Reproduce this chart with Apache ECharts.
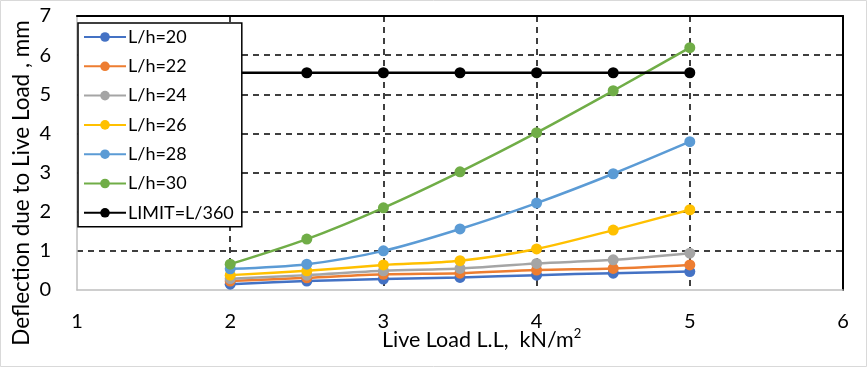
<!DOCTYPE html>
<html><head><meta charset="utf-8">
<script src="https://cdn.jsdelivr.net/npm/echarts@6/dist/echarts.min.js"></script>
<style>html,body{margin:0;padding:0;background:#fff}#c{width:867px;height:367px}</style>
</head><body><div id="c"></div>
<script>
const xLoads = [2, 2.5, 3, 3.5, 4, 4.5, 5];
const seriesNames = ['L/h=20','L/h=22','L/h=24','L/h=26','L/h=28','L/h=30','LIMIT=L/360'];
const lh20 = [0.15, 0.23, 0.28, 0.32, 0.38, 0.43, 0.47];
const lh22 = [0.23, 0.31, 0.40, 0.43, 0.51, 0.55, 0.64];
const lh24 = [0.29, 0.38, 0.49, 0.55, 0.68, 0.77, 0.94];
const lh26 = [0.38, 0.49, 0.64, 0.75, 1.05, 1.53, 2.05];
const lh28 = [0.54, 0.66, 1.00, 1.56, 2.22, 2.97, 3.79];
const lh30 = [0.66, 1.30, 2.10, 3.02, 4.02, 5.09, 6.19];
const limit = [5.55, 5.55, 5.55, 5.55, 5.55, 5.55, 5.55];
const colors = ['#4472C4','#ED7D31','#A5A5A5','#FFC000','#5B9BD5','#70AD47','#000000'];
const xTicks = [1, 2, 3, 4, 5, 6];
const yTicks = [0, 1, 2, 3, 4, 5, 6, 7];
const yTitle = 'Deflection due to Live Load , mm';
const xTitle = 'Live Load L.L,  kN/m';

const font = 'Lato, "Open Sans", sans-serif';
const allData = [lh20, lh22, lh24, lh26, lh28, lh30, limit];

const chart = echarts.init(document.getElementById('c'));
chart.setOption({
  animation: false,
  backgroundColor: '#fff',
  color: colors,
  textStyle: {fontFamily: font},
  grid: {left: 77, right: 24, top: 16, bottom: 77, containLabel: false},
  legend: {
    orient: 'vertical', left: 78, top: 23,
    data: seriesNames,
    backgroundColor: '#fff', borderColor: '#000', borderWidth: 1.5, borderRadius: 0,
    padding: [5, 8, 5, 5],
    itemWidth: 42, itemHeight: 12, itemGap: 11.3,
    textStyle: {fontSize: 18, color: '#000', fontFamily: font, padding: [0,0,0,-3]},
    z: 10
  },
  xAxis: [{
    type: 'value', min: xTicks[0], max: xTicks[xTicks.length-1], interval: 1,
    axisLine: {show: true, lineStyle: {color: '#bfbfbf', width: 1.5}},
    axisTick: {show: false},
    axisLabel: {fontSize: 20, color: '#000', margin: 22, fontFamily: font},
    splitLine: {show: true, showMinLine: false, showMaxLine: false, lineStyle: {color: '#000', type: [6, 5], width: 1.5}}
  }, {
    type: 'value', position: 'top', min: 1, max: 6, interval: 1,
    axisLine: {show: true, onZero: false, lineStyle: {color: '#000', width: 2}},
    axisTick: {show: false}, axisLabel: {show: false}, splitLine: {show: false}
  }],
  yAxis: [{
    type: 'value', min: yTicks[0], max: yTicks[yTicks.length-1], interval: 1,
    axisLine: {show: true, lineStyle: {color: '#bfbfbf', width: 1.5}},
    axisTick: {show: false},
    axisLabel: {fontSize: 20, color: '#000', margin: 26, fontFamily: font},
    splitLine: {show: true, showMinLine: false, showMaxLine: false, lineStyle: {color: '#000', type: [6, 5], width: 1.5}}
  }, {
    type: 'value', position: 'right', min: 0, max: 7, interval: 1,
    axisLine: {show: true, onZero: false, lineStyle: {color: '#000', width: 2}},
    axisTick: {show: false}, axisLabel: {show: false}, splitLine: {show: false}
  }],
  graphic: [
    {type: 'rect', shape: {x: 0.5, y: 0.5, width: 866, height: 366}, style: {fill: 'none', stroke: '#d9d9d9', lineWidth: 1}, z: -1},
    {type: 'text', x: 22, y: 183, rotation: Math.PI / 2, style: {
      text: yTitle, fontSize: 22.5, fontFamily: font, fill: '#000', align: 'center', verticalAlign: 'middle'
    }},
    {type: 'text', left: 382, top: 327, style: {
      text: '{a|' + xTitle + '}{s|2}',
      rich: {a: {fontSize: 21.5, fontFamily: font, fill: '#000'}, s: {fontSize: 13, fontFamily: font, fill: '#000', verticalAlign: 'top', padding: [0,0,13,0]}}
    }}
  ],
  series: allData.map((d, i) => ({
    name: seriesNames[i],
    type: 'line',
    data: xLoads.map((x, j) => [x, d[j]]),
    smooth: i === 6 ? false : 0.3,
    symbol: 'circle', symbolSize: 11,
    lineStyle: {width: 2.5, color: colors[i]},
    itemStyle: {color: colors[i]},
    z: 3 + i
  }))
});
</script></body></html>
